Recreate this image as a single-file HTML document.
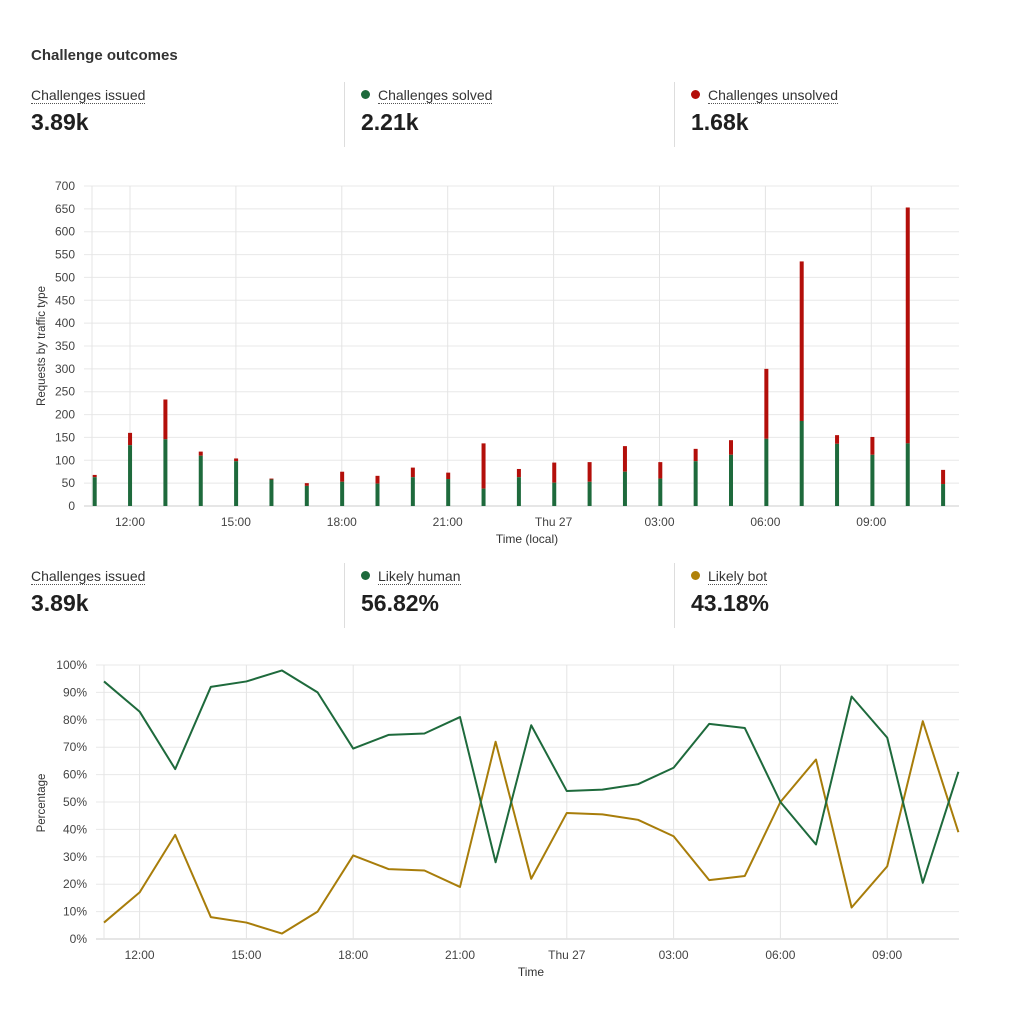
<!DOCTYPE html>
<html><head><meta charset="utf-8"><style>
body{margin:0;background:#fff;width:1020px;height:1011px;overflow:hidden;font-family:"Liberation Sans",sans-serif;color:#222}
.t{position:absolute;left:31px;top:47px;font-size:15px;font-weight:bold;color:#333}
.lab{position:absolute;font-size:14px;color:#333;border-bottom:1px dotted #555;line-height:15px}
.val{position:absolute;font-size:23px;font-weight:bold;color:#1f1f1f}
.div{position:absolute;width:1px;background:#ddd}
.dot{position:absolute;width:9px;height:9px;border-radius:50%}
svg{position:absolute;left:0;top:0}
</style></head><body>
<div class="t">Challenge outcomes</div>
<div class="lab" style="left:31px;top:88px">Challenges issued</div>
<div class="val" style="left:31px;top:109px">3.89k</div>
<div class="div" style="left:344px;top:82px;height:65px"></div>
<div class="dot" style="left:361px;top:90px;background:#1e6a3c"></div>
<div class="lab" style="left:378px;top:88px">Challenges solved</div>
<div class="val" style="left:361px;top:109px">2.21k</div>
<div class="div" style="left:674px;top:82px;height:65px"></div>
<div class="dot" style="left:691px;top:90px;background:#b30f0a"></div>
<div class="lab" style="left:708px;top:88px">Challenges unsolved</div>
<div class="val" style="left:691px;top:109px">1.68k</div>

<div class="lab" style="left:31px;top:569px">Challenges issued</div>
<div class="val" style="left:31px;top:590px">3.89k</div>
<div class="div" style="left:344px;top:563px;height:65px"></div>
<div class="dot" style="left:361px;top:571px;background:#1e6a3c"></div>
<div class="lab" style="left:378px;top:569px">Likely human</div>
<div class="val" style="left:361px;top:590px">56.82%</div>
<div class="div" style="left:674px;top:563px;height:65px"></div>
<div class="dot" style="left:691px;top:571px;background:#b0820a"></div>
<div class="lab" style="left:708px;top:569px">Likely bot</div>
<div class="val" style="left:691px;top:590px">43.18%</div>

<svg id="s" width="1020" height="1011" xmlns="http://www.w3.org/2000/svg" font-family="Liberation Sans, sans-serif"></svg>
<script>
var s=document.getElementById('s'),h='';
// bar chart
for(var v=0;v<=700;v+=50){var y=506-v*320/700;h+='<line x1="84" x2="959" y1="'+y+'" y2="'+y+'" stroke="'+(v?'#e8e8e8':'#ccc')+'"/>';h+='<text x="75" y="'+(y+4)+'" font-size="12" fill="#444" text-anchor="end">'+v+'</text>';}
var bl=['12:00','15:00','18:00','21:00','Thu 27','03:00','06:00','09:00'];
h+='<line x1="92" x2="92" y1="186" y2="506" stroke="#e4e4e4"/>';
for(var i=0;i<8;i++){var x=130+i*105.9;h+='<line x1="'+x+'" x2="'+x+'" y1="186" y2="506" stroke="#e4e4e4"/><text x="'+x+'" y="526" font-size="12" fill="#444" text-anchor="middle">'+bl[i]+'</text>';}
var d=[[68,63],[160,133],[233,146],[119,110],[104,98],[60,58],[50,44],[75,53],[66,49],[84,63],[73,59],[137,38],[81,63],[95,51],[96,53],[131,75],[96,60],[125,98],[144,112],[300,147],[535,186],[155,136],[151,112],[653,137],[79,48]];
for(var i=0;i<d.length;i++){var x=92.7+i*35.35,k=320/700;h+='<rect x="'+x+'" width="4" y="'+(506-d[i][0]*k)+'" height="'+((d[i][0]-d[i][1])*k)+'" fill="#b30f0a"/><rect x="'+x+'" width="4" y="'+(506-d[i][1]*k)+'" height="'+(d[i][1]*k)+'" fill="#1e6a3c"/>';}
h+='<text x="527" y="543" font-size="12" fill="#333" text-anchor="middle">Time (local)</text>';
h+='<text transform="translate(45,346) rotate(-90)" font-size="11.5" fill="#333" text-anchor="middle">Requests by traffic type</text>';
// line chart
for(var p=0;p<=100;p+=10){var y=939-p*2.74;h+='<line x1="96" x2="959" y1="'+y+'" y2="'+y+'" stroke="'+(p?'#e8e8e8':'#ccc')+'"/><text x="87" y="'+(y+4)+'" font-size="12" fill="#444" text-anchor="end">'+p+'%</text>';}
h+='<line x1="104" x2="104" y1="665" y2="939" stroke="#e4e4e4"/>';
for(var i=0;i<8;i++){var x=139.6+i*106.8;h+='<line x1="'+x+'" x2="'+x+'" y1="665" y2="939" stroke="#e4e4e4"/><text x="'+x+'" y="959" font-size="12" fill="#444" text-anchor="middle">'+bl[i]+'</text>';}
var hu=[94,83,62,92,94,98,90,69.5,74.5,75,81,28,78,54,54.5,56.5,62.5,78.5,77,50,34.5,88.5,73.5,20.5,61];
var g='',b='';
for(var i=0;i<hu.length;i++){var x=104+i*35.6;g+=x+','+(939-hu[i]*2.74)+' ';b+=x+','+(939-(100-hu[i])*2.74)+' ';}
h+='<polyline points="'+b+'" fill="none" stroke="#a87d0a" stroke-width="2" stroke-linejoin="round"/>';
h+='<polyline points="'+g+'" fill="none" stroke="#1e6a3c" stroke-width="2" stroke-linejoin="round"/>';
h+='<text x="531" y="976" font-size="12" fill="#333" text-anchor="middle">Time</text>';
h+='<text transform="translate(45,803) rotate(-90)" font-size="11.5" fill="#333" text-anchor="middle">Percentage</text>';
s.innerHTML=h;
</script>
</body></html>
